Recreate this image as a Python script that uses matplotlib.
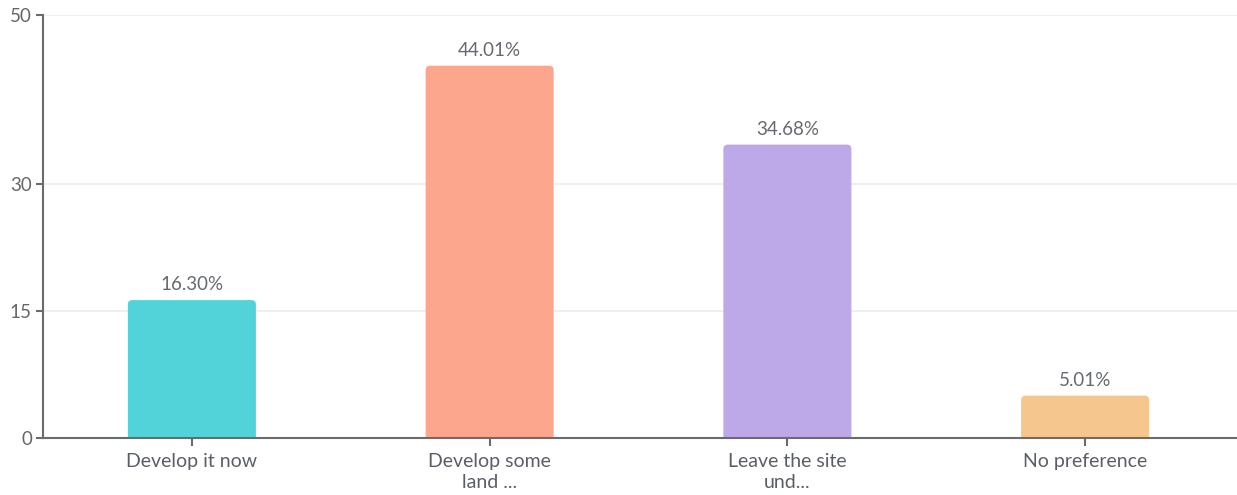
import numpy as np
import matplotlib
matplotlib.use("Agg")
import matplotlib.pyplot as plt
from matplotlib.patches import FancyBboxPatch

plt.rcParams['font.family'] = ['Lato', 'DejaVu Sans']

# Survey answers and their shares (%)
categories = ["Develop it now", "Develop some\nland ...", "Leave the site\nund...", "No preference"]
shares = [16.30, 44.01, 34.68, 5.01]
colors = ["#52D3D9", "#FCA68D", "#BDA8E8", "#F5C78E"]
yticks = [0, 15, 30, 50]

fig = plt.figure(figsize=(12.37, 4.95), dpi=100)
ax = fig.add_axes([43 / 1237, 57 / 495, 1194 / 1237, 423 / 495])

x = np.arange(len(categories))
width = 0.43
ax.set_xlim(-0.5, 3.51)
ax.set_ylim(0, 50)

# rounded tops: radius in pixels converted to data units
px_x = 1194 / 4.01
px_y = 423 / 50
r = 4.5 / px_x
aspect = px_x / px_y
drop = 2.0  # push the lower corners below the axis so they get clipped

bars = ax.bar(x, shares, width=width, color=colors, alpha=0)
for b, c in zip(bars, colors):
    bx, bw, bh = b.get_x(), b.get_width(), b.get_height()
    ax.add_patch(FancyBboxPatch((bx, -drop), bw, bh + drop,
                                boxstyle=f"round,pad=0,rounding_size={r}",
                                mutation_aspect=aspect, fc=c, ec="none", zorder=2))
    ax.annotate(f"{bh:.2f}%", (bx + bw / 2, bh), xytext=(0, 5),
                textcoords="offset points", ha="center", va="bottom",
                fontsize=13.5, color="#666a70")

ax.set_yticks(yticks)
ax.set_xticks(x)
ax.set_xticklabels(categories)
ax.yaxis.grid(True, color="#ececec", lw=1.2, zorder=0)
ax.set_axisbelow(True)

for s in ["top", "right"]:
    ax.spines[s].set_visible(False)
for s in ["left", "bottom"]:
    ax.spines[s].set_color("#6b6b6b")
    ax.spines[s].set_linewidth(1.5)
    ax.spines[s].set_zorder(3)

ax.tick_params(axis="y", length=5, width=1.5, color="#6b6b6b", labelsize=13.5,
               labelcolor="#666666", pad=3)
ax.tick_params(axis="x", length=6, width=1.5, color="#6b6b6b", labelsize=14,
               labelcolor="#5a5e66", pad=5)
for lbl in ax.get_xticklabels():
    lbl.set_linespacing(1.25)

fig.savefig("out.png", dpi=100)
